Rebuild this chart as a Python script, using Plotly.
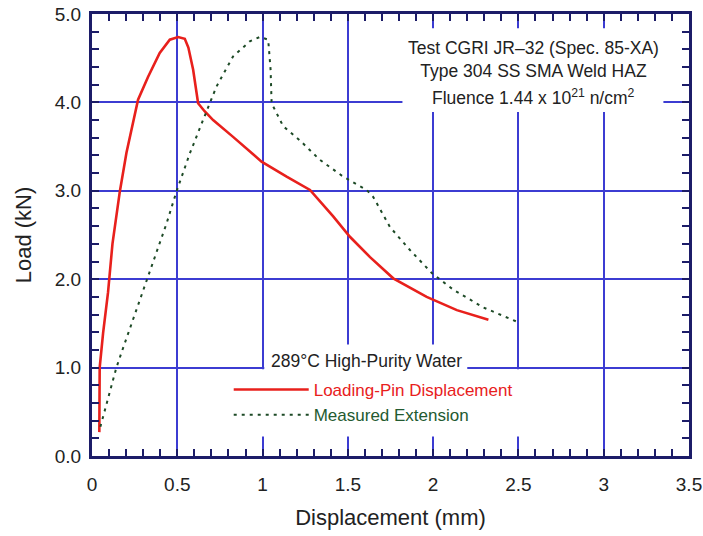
import plotly.graph_objects as go

# ---- data ----
red_x = [0.043, 0.045, 0.065, 0.094, 0.12, 0.163, 0.202, 0.27, 0.329, 0.397, 0.456, 0.505,
         0.544, 0.565, 0.593, 0.622, 0.66, 0.71, 0.827, 0.994, 1.141, 1.278, 1.414, 1.512,
         1.63, 1.766, 1.962, 2.139, 2.324]
red_y = [0.27, 1.0, 1.39, 1.85, 2.4, 2.99, 3.43, 4.03, 4.29, 4.56, 4.71, 4.74,
         4.72, 4.62, 4.37, 3.99, 3.9, 3.80, 3.61, 3.33, 3.16, 3.01, 2.71, 2.48,
         2.25, 2.01, 1.80, 1.65, 1.54]

green_x = [0.049, 0.143, 0.182, 0.28, 0.319, 0.437, 0.495, 0.573, 0.651, 0.73, 0.827, 0.925,
           0.984, 1.033, 1.047, 1.053, 1.121, 1.219, 1.336, 1.473, 1.61, 1.649, 1.747, 1.864,
           1.992, 2.119, 2.295, 2.49]
green_y = [0.33, 1.0, 1.22, 1.76, 1.99, 2.63, 2.99, 3.42, 3.80, 4.18, 4.52, 4.69,
           4.74, 4.71, 4.37, 3.99, 3.73, 3.57, 3.35, 3.16, 3.01, 2.93, 2.59, 2.33,
           2.07, 1.88, 1.68, 1.52]

x_ticks = [0, 0.5, 1, 1.5, 2, 2.5, 3, 3.5]
x_labels = ["0", "0.5", "1", "1.5", "2", "2.5", "3", "3.5"]
y_ticks = [0, 1, 2, 3, 4, 5]
y_labels = ["0.0", "1.0", "2.0", "3.0", "4.0", "5.0"]

RED = "#e8201c"
GREEN = "#1d4a26"
NAVY = "#1c1c68"
GRID = "#3c3cd2"
TXT = "#222222"
FONT = "Liberation Sans, Arial, sans-serif"

fig = go.Figure()
fig.add_trace(go.Scatter(
    x=red_x, y=red_y, mode="lines",
    name="<span style='color:#e8201c'>Loading-Pin Displacement</span>",
    line=dict(color=RED, width=2.6)))
fig.add_trace(go.Scatter(
    x=green_x, y=green_y, mode="lines",
    name="<span style='color:#235a30'>Measured Extension</span>",
    line=dict(color=GREEN, width=2, dash="3px,5px")))

# white panels that interrupt the grid behind the text blocks
for x0, x1, y0, y1 in [(1.82, 3.35, 3.89, 4.84), (1.01, 2.2, 0.97, 1.26), (0.81, 2.97, 0.22, 0.98)]:
    fig.add_shape(type="rect", xref="x", yref="y", x0=x0, x1=x1, y0=y0, y1=y1,
                  fillcolor="white", line=dict(width=0), layer="between")

ann_font = dict(family=FONT, size=17.5, color=TXT)
fig.add_annotation(x=2.59, y=4.48, xref="x", yref="y", showarrow=False,
                   text="Test CGRI JR\u201332 (Spec. 85-XA)<br>Type 304 SS SMA Weld HAZ", font=ann_font)
fig.add_annotation(x=2.59, y=4.06, xref="x", yref="y", showarrow=False,
                   text="Fluence 1.44 x 10<sup>21</sup> n/cm<sup>2</sup>", font=ann_font)
fig.add_annotation(x=1.61, y=1.07, xref="x", yref="y", showarrow=False,
                   text="289\u00b0C High-Purity Water", font=ann_font)

axis_common = dict(
    showline=True, linecolor=NAVY, linewidth=3, mirror="allticks",
    ticks="inside", ticklen=7, tickwidth=2, tickcolor=NAVY,
    showgrid=True, gridcolor=GRID, gridwidth=1.5, zeroline=False,
    tickfont=dict(family=FONT, size=19, color=TXT), automargin=False,
)

fig.update_xaxes(range=[0, 3.5], tickvals=x_ticks, ticktext=x_labels,
                 minor=dict(dtick=0.1, ticks="inside", ticklen=7, tickwidth=2, tickcolor=NAVY,
                            showgrid=False, gridcolor=GRID),
                 title=dict(text="Displacement (mm)", font=dict(family=FONT, size=22, color=TXT), standoff=16),
                 ticklabelstandoff=9, **axis_common)
fig.update_yaxes(range=[0, 5], tickvals=y_ticks, ticktext=y_labels,
                 minor=dict(dtick=0.2, ticks="inside", ticklen=7, tickwidth=2, tickcolor=NAVY,
                            showgrid=False, gridcolor=GRID),
                 title=dict(text="Load (kN)", font=dict(family=FONT, size=22, color=TXT), standoff=18),
                 ticklabelstandoff=4, **axis_common)

fig.update_layout(
    width=703, height=536,
    margin=dict(l=92, r=14, t=14, b=80),
    paper_bgcolor="white", plot_bgcolor="white",
    showlegend=True,
    legend=dict(x=0.229, y=0.19, xanchor="left", yanchor="top",
                bgcolor="rgba(0,0,0,0)", borderwidth=0, itemwidth=75,
                font=dict(family=FONT, size=17, color=TXT), tracegroupgap=0),
)

fig.write_html("out.html")
